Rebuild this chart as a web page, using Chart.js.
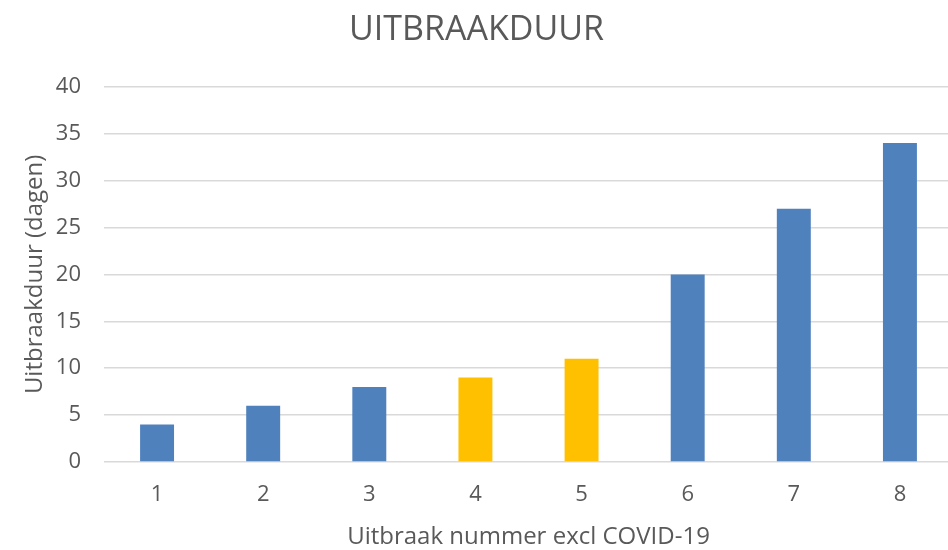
<!DOCTYPE html>
<html>
<head>
<meta charset="utf-8">
<script src="https://cdn.jsdelivr.net/npm/chart.js@4/dist/chart.umd.min.js"></script>
<style>
  html, body { margin: 0; padding: 0; background: #ffffff; overflow: hidden; }
  #wrap { width: 948px; height: 550px; overflow: hidden; }
  #c { display: block; }
</style>
</head>
<body>
<div id="wrap"><canvas id="c" width="953" height="550"></canvas></div>
<script>
const categories = ["1", "2", "3", "4", "5", "6", "7", "8"];
const durations = [4, 6, 8, 9, 11, 20, 27, 34];
const barColors = ["#4F81BD", "#4F81BD", "#4F81BD", "#FFC000", "#FFC000", "#4F81BD", "#4F81BD", "#4F81BD"];
const chartTitle = "UITBRAAKDUUR";
const yTitle = "Uitbraakduur (dagen)";
const xTitle = "Uitbraak nummer excl COVID-19";

const FONT = "'Open Sans', 'Noto Sans', sans-serif";
const TEXT = "#595959";

new Chart(document.getElementById("c"), {
  type: "bar",
  data: {
    labels: categories,
    datasets: [{
      data: durations,
      backgroundColor: barColors,
      borderWidth: 0,
      barPercentage: 0.32,
      categoryPercentage: 1.0
    }]
  },
  options: {
    responsive: false,
    animation: false,
    layout: { padding: { left: 0, right: 0, top: 0, bottom: 0 } },
    plugins: {
      legend: { display: false },
      tooltip: { enabled: false },
      title: {
        display: true,
        text: chartTitle,
        color: TEXT,
        font: { family: FONT, size: 34, weight: "normal", lineHeight: 1.2 },
        padding: { top: 10, bottom: 36 }
      }
    },
    scales: {
      x: {
        grid: { display: false, drawTicks: false },
        border: { display: false },
        ticks: { color: TEXT, font: { family: FONT, size: 22 }, padding: 20 },
        title: {
          display: true,
          text: xTitle,
          color: TEXT,
          font: { family: FONT, size: 24, lineHeight: 1.0 },
          padding: { top: 0, bottom: 1 }
        },
        afterFit: (s) => { s.height = 88; }
      },
      y: {
        min: 0,
        max: 40,
        ticks: { stepSize: 5, color: TEXT, font: { family: FONT, size: 22 }, padding: 23 },
        grid: { color: "#D9D9D9", lineWidth: 1.5, drawTicks: false },
        border: { display: false },
        title: {
          display: true,
          text: yTitle,
          color: TEXT,
          font: { family: FONT, size: 24, lineHeight: 1.2 },
          padding: { top: 21, bottom: 0 }
        },
        afterFit: (s) => { s.width = 104; }
      }
    }
  }
});
</script>
</body>
</html>
